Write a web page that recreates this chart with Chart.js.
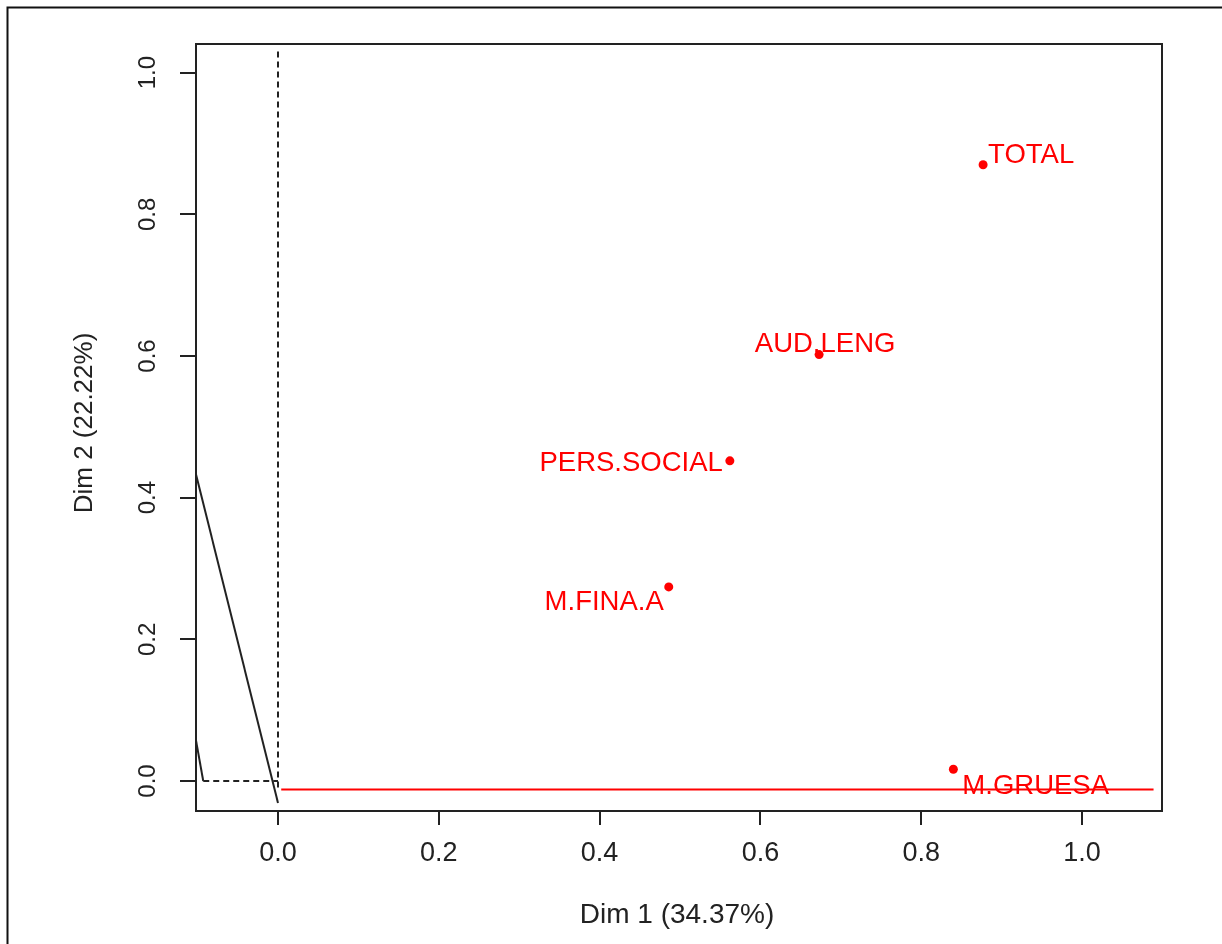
<!DOCTYPE html>
<html>
<head>
<meta charset="utf-8">
<script src="https://cdn.jsdelivr.net/npm/chart.js@4/dist/chart.umd.min.js"></script>
<style>
  html, body { margin: 0; padding: 0; background: #fff; }
  #wrap { width: 1222px; height: 944px; position: relative; }
</style>
</head>
<body>
<div id="wrap"><canvas id="c" width="1222" height="944"></canvas></div>
<script>
// ---- data ----
const pointLabels = ["TOTAL", "AUD.LENG", "PERS.SOCIAL", "M.FINA.A", "M.GRUESA"];
const dim1Values = [0.877, 0.673, 0.562, 0.486, 0.840];
const dim2Values = [0.870, 0.602, 0.452, 0.274, 0.0165];

const xTickValues = [0.0, 0.2, 0.4, 0.6, 0.8, 1.0];
const yTickValues = [0.0, 0.2, 0.4, 0.6, 0.8, 1.0];
const xTickLabels = ["0.0", "0.2", "0.4", "0.6", "0.8", "1.0"];
const yTickLabels = ["0.0", "0.2", "0.4", "0.6", "0.8", "1.0"];

const xTitle = "Dim 1 (34.37%)";
const yTitle = "Dim 2 (22.22%)";

// reference segments (x values, y values)
const vDashX = [0.0, 0.0];       const vDashY = [1.03, -0.01];
const hDashX = [-0.093, 0.0];    const hDashY = [0.0, 0.0];
const diagX  = [-0.104, 0.0];    const diagY  = [0.442, -0.031];
const shortX = [-0.104, -0.093]; const shortY = [0.070, 0.0];
const redX   = [0.004, 1.089];   const redY   = [-0.012, -0.012];

const xRange = [-0.102, 1.0995];
const yRange = [-0.0424, 1.0405];

// ---- build ----
const seg = (xs, ys) => xs.map((x, i) => ({ x: x, y: ys[i] }));
const pts = dim1Values.map((x, i) => ({ x: x, y: dim2Values[i] }));

const FONT = "'Liberation Sans', Arial, sans-serif";
const INK = '#222';

// label placement relative to point (style)
const labelPlace = {
  "TOTAL":       { dx: 5,  dy: -9,  align: 'left' },
  "AUD.LENG":    { dx: 6,  dy: -10, align: 'center' },
  "PERS.SOCIAL": { dx: -7, dy: 3,   align: 'right' },
  "M.FINA.A":    { dx: -5, dy: 16,  align: 'right' },
  "M.GRUESA":    { dx: 9,  dy: 17,  align: 'left' }
};

const decor = {
  id: 'decor',
  afterDatasetsDraw(chart) {
    const ctx = chart.ctx;
    const a = chart.chartArea;
    const xs = chart.scales.x, ys = chart.scales.y;
    ctx.save();
    // outer frame
    ctx.strokeStyle = '#111';
    ctx.lineWidth = 2;
    ctx.beginPath();
    ctx.moveTo(7.5, 960);
    ctx.lineTo(7.5, 7.5);
    ctx.lineTo(1240, 7.5);
    ctx.stroke();
    // plot box
    ctx.strokeStyle = INK;
    ctx.lineWidth = 2;
    ctx.strokeRect(a.left, a.top, a.right - a.left, a.bottom - a.top);

    // point labels
    ctx.fillStyle = '#ff0000';
    ctx.font = '27.5px ' + FONT;
    ctx.textBaseline = 'middle';
    pointLabels.forEach((lab, i) => {
      const p = labelPlace[lab];
      const px = xs.getPixelForValue(dim1Values[i]);
      const py = ys.getPixelForValue(dim2Values[i]);
      ctx.textAlign = p.align;
      ctx.fillText(lab, px + p.dx, py + p.dy);
    });

    // x tick labels
    ctx.fillStyle = INK;
    ctx.font = '27px ' + FONT;
    ctx.textAlign = 'center';
    ctx.textBaseline = 'middle';
    xTickValues.forEach((v, i) => {
      ctx.fillText(xTickLabels[i], xs.getPixelForValue(v), a.bottom + 43);
    });
    // y tick labels (rotated)
    ctx.font = '24px ' + FONT;
    yTickValues.forEach((v, i) => {
      ctx.save();
      ctx.translate(a.left - 48, ys.getPixelForValue(v));
      ctx.rotate(-Math.PI / 2);
      ctx.fillText(yTickLabels[i], 0, 0);
      ctx.restore();
    });
    // axis titles
    ctx.font = '28px ' + FONT;
    ctx.fillText(xTitle, 677, 915);
    ctx.save();
    ctx.font = '26px ' + FONT;
    ctx.translate(85, 423);
    ctx.rotate(-Math.PI / 2);
    ctx.fillText(yTitle, 0, 0);
    ctx.restore();
    ctx.restore();
  }
};

const lineDs = (data, color, dash) => ({
  type: 'line', data: data, borderColor: color, borderWidth: 2,
  borderDash: dash || [], pointRadius: 0, fill: false, tension: 0, showLine: true
});

new Chart(document.getElementById('c'), {
  type: 'scatter',
  data: {
    datasets: [
      lineDs(seg(vDashX, vDashY), INK, [6, 4]),
      lineDs(seg(hDashX, hDashY), INK, [6, 4]),
      lineDs(seg(diagX, diagY), INK),
      lineDs(seg(shortX, shortY), INK),
      lineDs(seg(redX, redY), '#ff0000'),
      {
        type: 'scatter', data: pts, pointRadius: 4.5, pointHoverRadius: 4.5,
        backgroundColor: '#ff0000', borderWidth: 0
      }
    ]
  },
  options: {
    responsive: false,
    animation: false,
    events: [],
    layout: { padding: { left: 0, top: 44, right: 60, bottom: 0 } },
    plugins: { legend: { display: false }, tooltip: { enabled: false } },
    scales: {
      x: {
        type: 'linear', min: xRange[0], max: xRange[1],
        afterBuildTicks: s => { s.ticks = xTickValues.map(v => ({ value: v })); },
        afterFit: s => { s.height = 133; },
        ticks: { display: false },
        border: { display: false },
        grid: { drawOnChartArea: false, drawTicks: true, tickLength: 14, color: INK, lineWidth: 2 }
      },
      y: {
        type: 'linear', min: yRange[0], max: yRange[1],
        afterBuildTicks: s => { s.ticks = yTickValues.map(v => ({ value: v })); },
        afterFit: s => { s.width = 196; },
        ticks: { display: false },
        border: { display: false },
        grid: { drawOnChartArea: false, drawTicks: true, tickLength: 16, color: INK, lineWidth: 2 }
      }
    }
  },
  plugins: [decor]
});
</script>
</body>
</html>
